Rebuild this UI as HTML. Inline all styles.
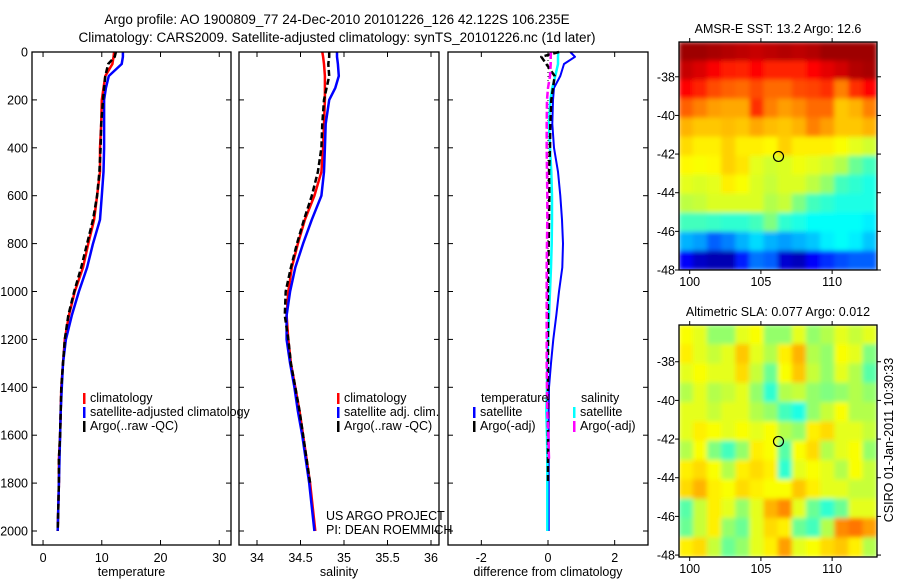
<!DOCTYPE html>
<html><head><meta charset="utf-8"><style>
html,body{margin:0;padding:0;background:#fff;}
svg{display:block;font-family:"Liberation Sans",sans-serif;}
</style></head><body>
<svg id="c" width="900" height="580" viewBox="0 0 900 580">
<text x="337" y="24" text-anchor="middle" font-size="13.5">Argo profile: AO 1900809_77 24-Dec-2010 20101226_126 42.122S 106.235E</text>
<text x="337" y="42" text-anchor="middle" font-size="13.5">Climatology: CARS2009. Satellite-adjusted climatology: synTS_20101226.nc (1d later)</text>
</svg>
<script>
const depths=[0,20,50,100,150,200,300,400,500,600,700,800,900,1000,1100,1200,1300,1400,1500,1600,1700,1800,1900,2000];
const tempClim=[12.1,12.0,11.8,10.6,10.3,10.0,9.9,9.7,9.7,9.2,8.7,7.7,6.8,5.4,4.4,3.7,3.4,3.1,3.0,2.9,2.7,2.7,2.6,2.5];
const tempSat=[13.6,13.6,13.4,11.2,10.7,10.4,10.4,10.4,10.3,10.0,9.7,8.5,7.5,6.1,4.9,3.9,3.4,3.2,3.0,2.9,2.8,2.7,2.6,2.5];
const tempArgo=[12.4,12.2,11.1,10.6,10.4,10.2,9.9,9.8,9.6,9.2,8.5,7.5,6.5,5.3,4.3,3.7,3.4,3.1,3.0,2.9,2.7,2.7,2.6,2.5];
const salClim=[34.75,34.76,34.77,34.78,34.78,34.78,34.77,34.76,34.74,34.66,34.55,34.47,34.40,34.36,34.34,34.36,34.39,34.44,34.49,34.53,34.57,34.61,34.64,34.67];
const salSat=[34.92,34.92,34.93,34.94,34.90,34.83,34.79,34.78,34.77,34.74,34.63,34.53,34.44,34.38,34.34,34.34,34.38,34.43,34.47,34.52,34.56,34.60,34.63,34.66];
const salArgo=[34.83,34.83,34.82,34.83,34.80,34.77,34.75,34.74,34.70,34.63,34.54,34.46,34.39,34.33,34.32,34.36,34.39,34.44,34.49,34.53,34.57,34.61,null,null];
const dTempSat=[0.67,0.81,0.48,0.37,0.18,0.15,0.13,0.18,0.30,0.37,0.42,0.45,0.43,0.33,0.25,0.16,0.09,0.03,0.02,0.02,0.02,0.02,0.02,0.02];
const dTempArgo=[0.33,-0.2,-0.05,0.2,0.15,0.1,0.07,0.06,0.03,0.04,0.03,0.02,0.01,0.0,0.0,0.0,0.0,0.0,0.0,0.0,0.0,0.0,null,null];
const dSalSat=[0.31,0.30,0.30,0.22,0.13,0.07,0.03,0.06,0.10,0.12,0.12,0.11,0.09,0.06,0.03,0.0,-0.02,-0.03,-0.05,-0.03,-0.02,-0.02,-0.02,-0.02];
const dSalArgo=[0.09,0.08,0.08,0.06,0.0,-0.03,-0.04,-0.04,-0.03,-0.02,-0.02,-0.03,-0.04,-0.04,-0.04,-0.04,-0.04,-0.03,-0.02,0.01,0.03,null,null,null];
const depthTicks=[0,200,400,600,800,1000,1200,1400,1600,1800,2000];
const tempTicks=[0,10,20,30];
const salTicks=[34,34.5,35,35.5,36];
const diffTicks=[-2,0,2];
const lonTicks=[100,105,110];
const latTicks=[-38,-40,-42,-44,-46,-48];
const sstGrid=[
[0.97,0.97,0.96,0.95,0.94,0.93,0.94,0.95,0.94,0.95,0.97,0.97,0.97,0.97],
[0.93,0.91,0.88,0.85,0.84,0.87,0.84,0.84,0.84,0.87,0.9,0.92,0.95,0.96],
[0.87,0.84,0.8,0.78,0.77,0.8,0.77,0.77,0.8,0.81,0.83,0.75,0.83,0.87],
[0.78,0.75,0.72,0.71,0.71,0.83,0.75,0.72,0.74,0.77,0.77,0.68,0.7,0.75],
[0.7,0.68,0.68,0.69,0.68,0.71,0.69,0.68,0.7,0.75,0.72,0.68,0.68,0.7],
[0.66,0.64,0.64,0.67,0.64,0.64,0.63,0.67,0.64,0.64,0.64,0.62,0.6,0.58],
[0.63,0.62,0.63,0.67,0.65,0.6,0.58,0.59,0.61,0.6,0.58,0.55,0.48,0.44],
[0.6,0.59,0.6,0.64,0.62,0.59,0.57,0.59,0.59,0.56,0.52,0.44,0.42,0.4],
[0.56,0.57,0.59,0.59,0.59,0.59,0.55,0.57,0.5,0.44,0.42,0.4,0.4,0.4],
[0.44,0.44,0.43,0.42,0.42,0.44,0.5,0.42,0.4,0.38,0.38,0.38,0.38,0.36],
[0.3,0.28,0.22,0.25,0.3,0.34,0.3,0.28,0.3,0.32,0.36,0.38,0.36,0.32],
[0.12,0.07,0.05,0.05,0.15,0.24,0.22,0.08,0.06,0.12,0.17,0.2,0.22,0.22]];
const slaGrid=[
[0.62,0.6,0.52,0.52,0.6,0.62,0.52,0.52,0.6,0.52,0.55,0.6,0.57,0.6],
[0.64,0.6,0.57,0.6,0.68,0.6,0.55,0.64,0.7,0.55,0.52,0.62,0.6,0.5],
[0.6,0.62,0.6,0.6,0.66,0.57,0.48,0.62,0.68,0.57,0.52,0.6,0.55,0.46],
[0.55,0.6,0.55,0.57,0.6,0.52,0.42,0.55,0.57,0.52,0.5,0.52,0.55,0.52],
[0.6,0.6,0.57,0.6,0.6,0.55,0.52,0.44,0.4,0.52,0.57,0.62,0.55,0.55],
[0.6,0.64,0.62,0.6,0.62,0.6,0.62,0.55,0.52,0.64,0.66,0.6,0.6,0.57],
[0.55,0.62,0.5,0.44,0.52,0.64,0.62,0.46,0.62,0.66,0.55,0.6,0.62,0.52],
[0.64,0.66,0.62,0.55,0.64,0.66,0.64,0.42,0.6,0.62,0.6,0.55,0.62,0.57],
[0.66,0.7,0.64,0.62,0.66,0.64,0.62,0.62,0.68,0.64,0.6,0.6,0.57,0.57],
[0.46,0.57,0.64,0.6,0.52,0.6,0.7,0.74,0.6,0.48,0.42,0.48,0.6,0.6],
[0.48,0.57,0.64,0.52,0.48,0.6,0.66,0.64,0.48,0.44,0.55,0.74,0.76,0.72],
[0.64,0.66,0.57,0.48,0.52,0.6,0.64,0.72,0.6,0.62,0.66,0.68,0.64,0.55]];
const argoLon=106.235, argoLat=-42.122;

const NS='http://www.w3.org/2000/svg';
const svg=document.getElementById('c');
function el(t,a,p){const e=document.createElementNS(NS,t);for(const k in a)e.setAttribute(k,a[k]);(p||svg).appendChild(e);return e;}
function txt(s,a,p){const e=el('text',a,p);e.textContent=s;return e;}
const Y0=52,Y1=545;
function yD(d){return 52+d*0.2395;}

const panels=[
 {name:'temperature',x0:32,x1:231,v0:-1.88,v1:32.0,ticks:tempTicks,label:'temperature',yLabels:true},
 {name:'salinity',x0:239,x1:439,v0:33.793,v1:36.092,ticks:salTicks,label:'salinity'},
 {name:'difference',x0:448,x1:648,v0:-3.0,v1:3.0,ticks:diffTicks,label:'difference from climatology'}];
panels.forEach(p=>{p.sx=v=>p.x0+(v-p.v0)/(p.v1-p.v0)*(p.x1-p.x0);});

function series(p,vals,color,dash,name,w){
  let pts=[];
  for(let i=0;i<depths.length;i++){ if(vals[i]==null)continue;
    pts.push(p.sx(vals[i]).toFixed(1)+','+yD(depths[i]).toFixed(1));}
  const e=el('polyline',{points:pts.join(' '),fill:'none',stroke:color,'stroke-width':w||2.5,'stroke-dasharray':dash||'none','stroke-linejoin':'round'});
  
  
}
function frame(x0,y0,x1,y1,name){
  const r=el('rect',{x:x0,y:y0,width:x1-x0,height:y1-y0,fill:'none',stroke:'#000','stroke-width':1.3});
  
  
}

panels.forEach((p,pi)=>{
  if(pi===0){series(p,tempClim,'#f00',null,'temp-climatology-line');series(p,tempSat,'#00f',null,'temp-satellite-line');series(p,tempArgo,'#000','6,3','temp-argo-line');}
  if(pi===1){series(p,salClim,'#f00',null,'sal-climatology-line');series(p,salSat,'#00f',null,'sal-satellite-line');series(p,salArgo,'#000','6,3','sal-argo-line');}
  if(pi===2){
    const z=el('line',{x1:p.sx(0),x2:p.sx(0),y1:yD(0),y2:yD(2000),stroke:'#000','stroke-width':1,'stroke-dasharray':'1,3'});
    
    
    series(p,dTempSat,'#00f',null,'diff-temp-satellite-line',2);
    series(p,dSalSat,'#0ff',null,'diff-sal-satellite-line',2.5);
    series(p,dTempArgo,'#000','6,3','diff-temp-argo-line',2.5);
    series(p,dSalArgo,'#f0f','7,3','diff-sal-argo-line',2.5);
  }
  frame(p.x0,Y0,p.x1,Y1,p.name+'-axes-frame');
  p.ticks.forEach(t=>{const x=p.sx(t);
    el('line',{x1:x,x2:x,y1:Y0,y2:Y0+5,stroke:'#000'});el('line',{x1:x,x2:x,y1:Y1,y2:Y1-5,stroke:'#000'});
    const l=txt(String(t),{x:x,y:562,'text-anchor':'middle','font-size':12.5});
    
    
  });
  depthTicks.forEach(d=>{const y=yD(d);
    el('line',{x1:p.x0,x2:p.x0+5,y1:y,y2:y,stroke:'#000'});el('line',{x1:p.x1,x2:p.x1-5,y1:y,y2:y,stroke:'#000'});
    if(p.yLabels){const l=txt(String(d),{x:28,y:y+4.5,'text-anchor':'end','font-size':12.5});
      
      }
  });
  const xl=txt(p.label,{x:(p.x0+p.x1)/2,y:576,'text-anchor':'middle','font-size':12.5});
  
  
});

function legend(x,y,color,label,name){
  el('rect',{x:x,y:y-9,width:2.5,height:11,fill:color});
  const t=txt(label,{x:x+7,y:y,'font-size':12.5});
  
  
}
legend(83,402,'#f00','climatology','legend-temp-climatology');
legend(83,416,'#00f','satellite-adjusted climatology','legend-temp-satellite');
legend(83,430,'#000','Argo(..raw -QC)','legend-temp-argo');
legend(337,402,'#f00','climatology','legend-sal-climatology');
legend(337,416,'#00f','satellite adj. clim.','legend-sal-satellite');
legend(337,430,'#000','Argo(..raw -QC)','legend-sal-argo');
let t1=txt('temperature',{x:481,y:402,'font-size':12.5});


let t2=txt('salinity',{x:581,y:402,'font-size':12.5});


legend(473,416,'#00f','satellite','legend-diff-temp-satellite');
legend(473,430,'#000','Argo(-adj)','legend-diff-temp-argo');
legend(573,416,'#0ff','satellite','legend-diff-sal-satellite');
legend(573,430,'#f0f','Argo(-adj)','legend-diff-sal-argo');
let u1=txt('US ARGO PROJECT',{x:326,y:520,'font-size':12.5});


let u2=txt('PI: DEAN ROEMMICH',{x:326,y:534,'font-size':12.5});



function jet(v){v=Math.max(0,Math.min(1,v));
  const r=Math.max(0,Math.min(1,1.5-Math.abs(4*v-3))),g=Math.max(0,Math.min(1,1.5-Math.abs(4*v-2))),b=Math.max(0,Math.min(1,1.5-Math.abs(4*v-1)));
  return 'rgb('+Math.round(r*255)+','+Math.round(g*255)+','+Math.round(b*255)+')';}
const defs=el('defs',{});
const f=el('filter',{id:'bl',x:'-5%',y:'-5%',width:'110%',height:'110%'},defs);
el('feGaussianBlur',{stdDeviation:2.5,edgeMode:'duplicate'},f);

function map(grid,x0,y0,x1,y1,lat0,lat1,title,name){
  const lon0=99.25,lon1=113.15;
  const sx=v=>x0+(v-lon0)/(lon1-lon0)*(x1-x0), sy=v=>y0+(lat0-v)/(lat0-lat1)*(y1-y0);
  const cp=el('clipPath',{id:'cp'+name},defs);el('rect',{x:x0,y:y0,width:x1-x0,height:y1-y0},cp);
  const outer=el('g',{'clip-path':'url(#cp'+name+')'});
  
  
  const g=el('g',{filter:'url(#bl)'},outer);
  const R=grid.length,C=grid[0].length,cw=(x1-x0)/C,ch=(y1-y0)/R;
  grid.forEach((row,i)=>row.forEach((v,j)=>{
    const c=el('rect',{x:(x0+j*cw-0.3).toFixed(2),y:(y0+i*ch-0.3).toFixed(2),width:(cw+0.6).toFixed(2),height:(ch+0.6).toFixed(2),fill:jet(v)},g);
    
    
  }));
  frame(x0,y0,x1,y1,name+'-frame');
  lonTicks.forEach(t=>{const x=sx(t);el('line',{x1:x,x2:x,y1:y0,y2:y0-4,stroke:'#000'});el('line',{x1:x,x2:x,y1:y1,y2:y1+4,stroke:'#000'});
    const l=txt(String(t),{x:x,y:y1+16,'text-anchor':'middle','font-size':12.5});
    
    });
  latTicks.forEach(t=>{const y=sy(t);el('line',{x1:x0,x2:x0-4,y1:y,y2:y,stroke:'#000'});el('line',{x1:x1,x2:x1+4,y1:y,y2:y,stroke:'#000'});
    const l=txt(String(t),{x:x0-4,y:y+4.5,'text-anchor':'end','font-size':12.5});
    
    });
  const m=el('circle',{cx:sx(argoLon),cy:sy(argoLat),r:5,fill:'none',stroke:'#000','stroke-width':1.2});
  
  
  const tt=txt(title,{x:(x0+x1)/2,y:y0-9,'text-anchor':'middle','font-size':12.5});
  
  
}
map(sstGrid,679,42,877,270,-36.2,-48.0,'AMSR-E SST: 13.2 Argo: 12.6','sst-map');
map(slaGrid,679,325,877,557,-36.1,-48.1,'Altimetric SLA: 0.077 Argo: 0.012','sla-map');
const cs=txt('CSIRO 01-Jan-2011 10:30:33',{x:0,y:0,'text-anchor':'middle','font-size':12.5,transform:'translate(893,440) rotate(-90)'});


</script>
</body></html>
